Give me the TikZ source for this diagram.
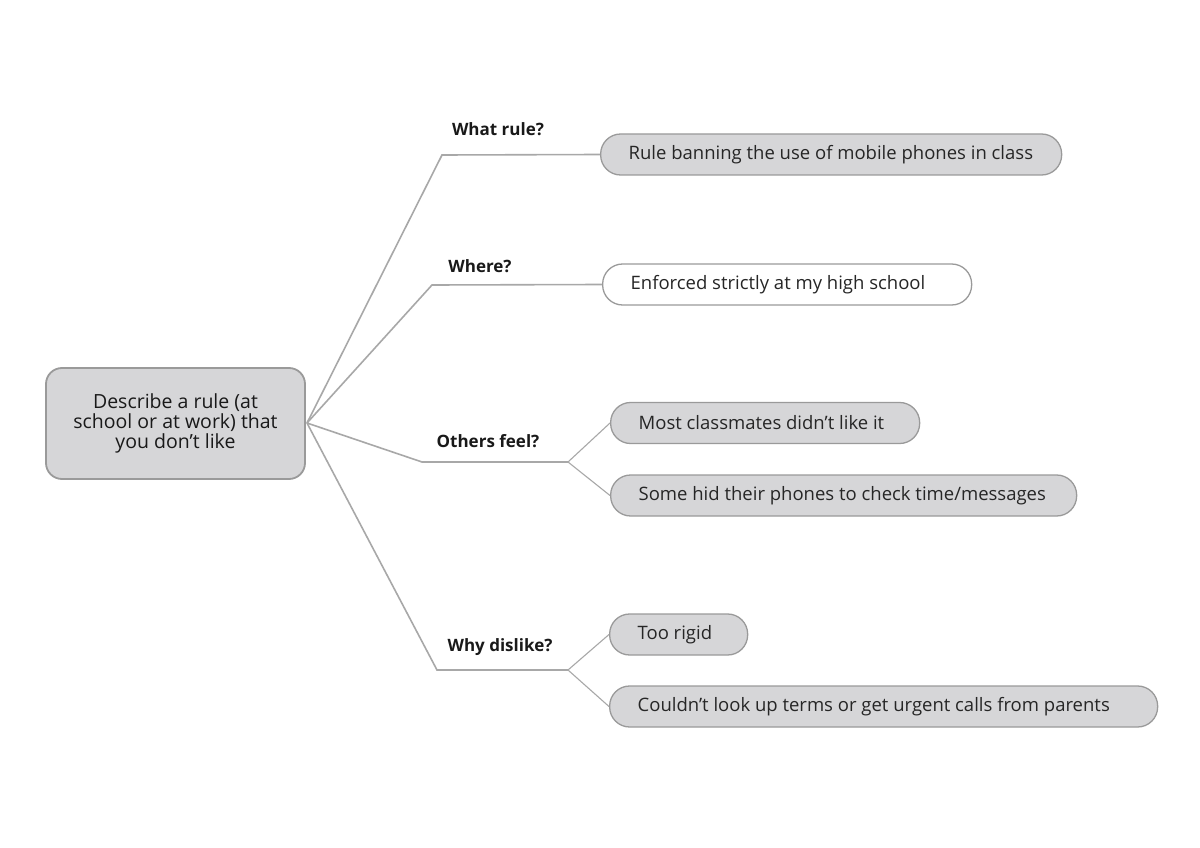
\documentclass[tikz,border=0pt]{standalone}
\usepackage{fontspec}
\setmainfont{Open Sans}
\definecolor{boxfill}{HTML}{D6D6D8}
\definecolor{boxline}{HTML}{9A9A9A}
\definecolor{linecol}{HTML}{A8A8A8}
\begin{document}
\begin{tikzpicture}[x=1pt,y=-1pt,
  rootbox/.style={draw=boxline, line width=1.8pt, fill=boxfill, rounded corners=16pt,
    minimum width=259pt, minimum height=111pt, align=center, font=\fontsize{19.5}{20}\selectfont, text=black!90},
  leaf/.style={draw=boxline, line width=1.3pt, fill=boxfill, rounded corners=20pt,
    minimum height=41pt, inner xsep=28pt, anchor=west, font=\fontsize{18.5}{20}\selectfont, text=black!85},
  leafwhite/.style={leaf, fill=white},
  conn/.style={draw=linecol, line width=1.6pt},
  sub/.style={draw=linecol, line width=1.1pt},
  qlabel/.style={font=\fontsize{17}{19}\selectfont\bfseries, text=black!90}
]
\useasboundingbox (0,0) rectangle (1200,848);
\fill[white] (0,0) rectangle (1200,848);

% root
\node[rootbox] (root) at (175.5,423.5) {Describe a rule (at\\school or at work) that\\you don’t like};

% leaves
\node[leaf] (l1) at (600,154.5) {\makebox[405pt][l]{Rule banning the use of mobile phones in class}};
\node[leafwhite] (l2) at (602,284.5) {\makebox[313pt][l]{Enforced strictly at my high school}};
\node[leaf] (l3a) at (610,423) {\makebox[253pt][l]{Most classmates didn’t like it}};
\node[leaf] (l3b) at (610,495.5) {\makebox[410pt][l]{Some hid their phones to check time/messages}};
\node[leaf] (l4a) at (609,634.5) {\makebox[82pt][l]{Too rigid}};
\node[leaf] (l4b) at (609,706.5) {\makebox[492pt][l]{Couldn’t look up terms or get urgent calls from parents}};

% bend coordinates
\coordinate (k1) at (442,155);
\coordinate (k2) at (432,285);
\coordinate (k3) at (422,462);
\coordinate (f3) at (568,462);
\coordinate (k4) at (437,670);
\coordinate (f4) at (568,670);
\coordinate (r) at (307,423);

% connectors
\draw[conn] (r) -- (k1) -- (l1.west);
\draw[conn] (r) -- (k2) -- (l2.west);
\draw[conn] (r) -- (k3) -- (f3);
\draw[sub] (f3) -- (l3a.west);
\draw[sub] (f3) -- (l3b.west);
\draw[conn] (r) -- (k4) -- (f4);
\draw[sub] (f4) -- (l4a.west);
\draw[sub] (f4) -- (l4b.west);

% labels
\node[qlabel] (q1) at (498,129) {What rule?};
\node[qlabel] (q2) at (480,266) {Where?};
\node[qlabel] (q3) at (488,441) {Others feel?};
\node[qlabel] (q4) at (500,647) {Why dislike?};
\end{tikzpicture}
\end{document}
